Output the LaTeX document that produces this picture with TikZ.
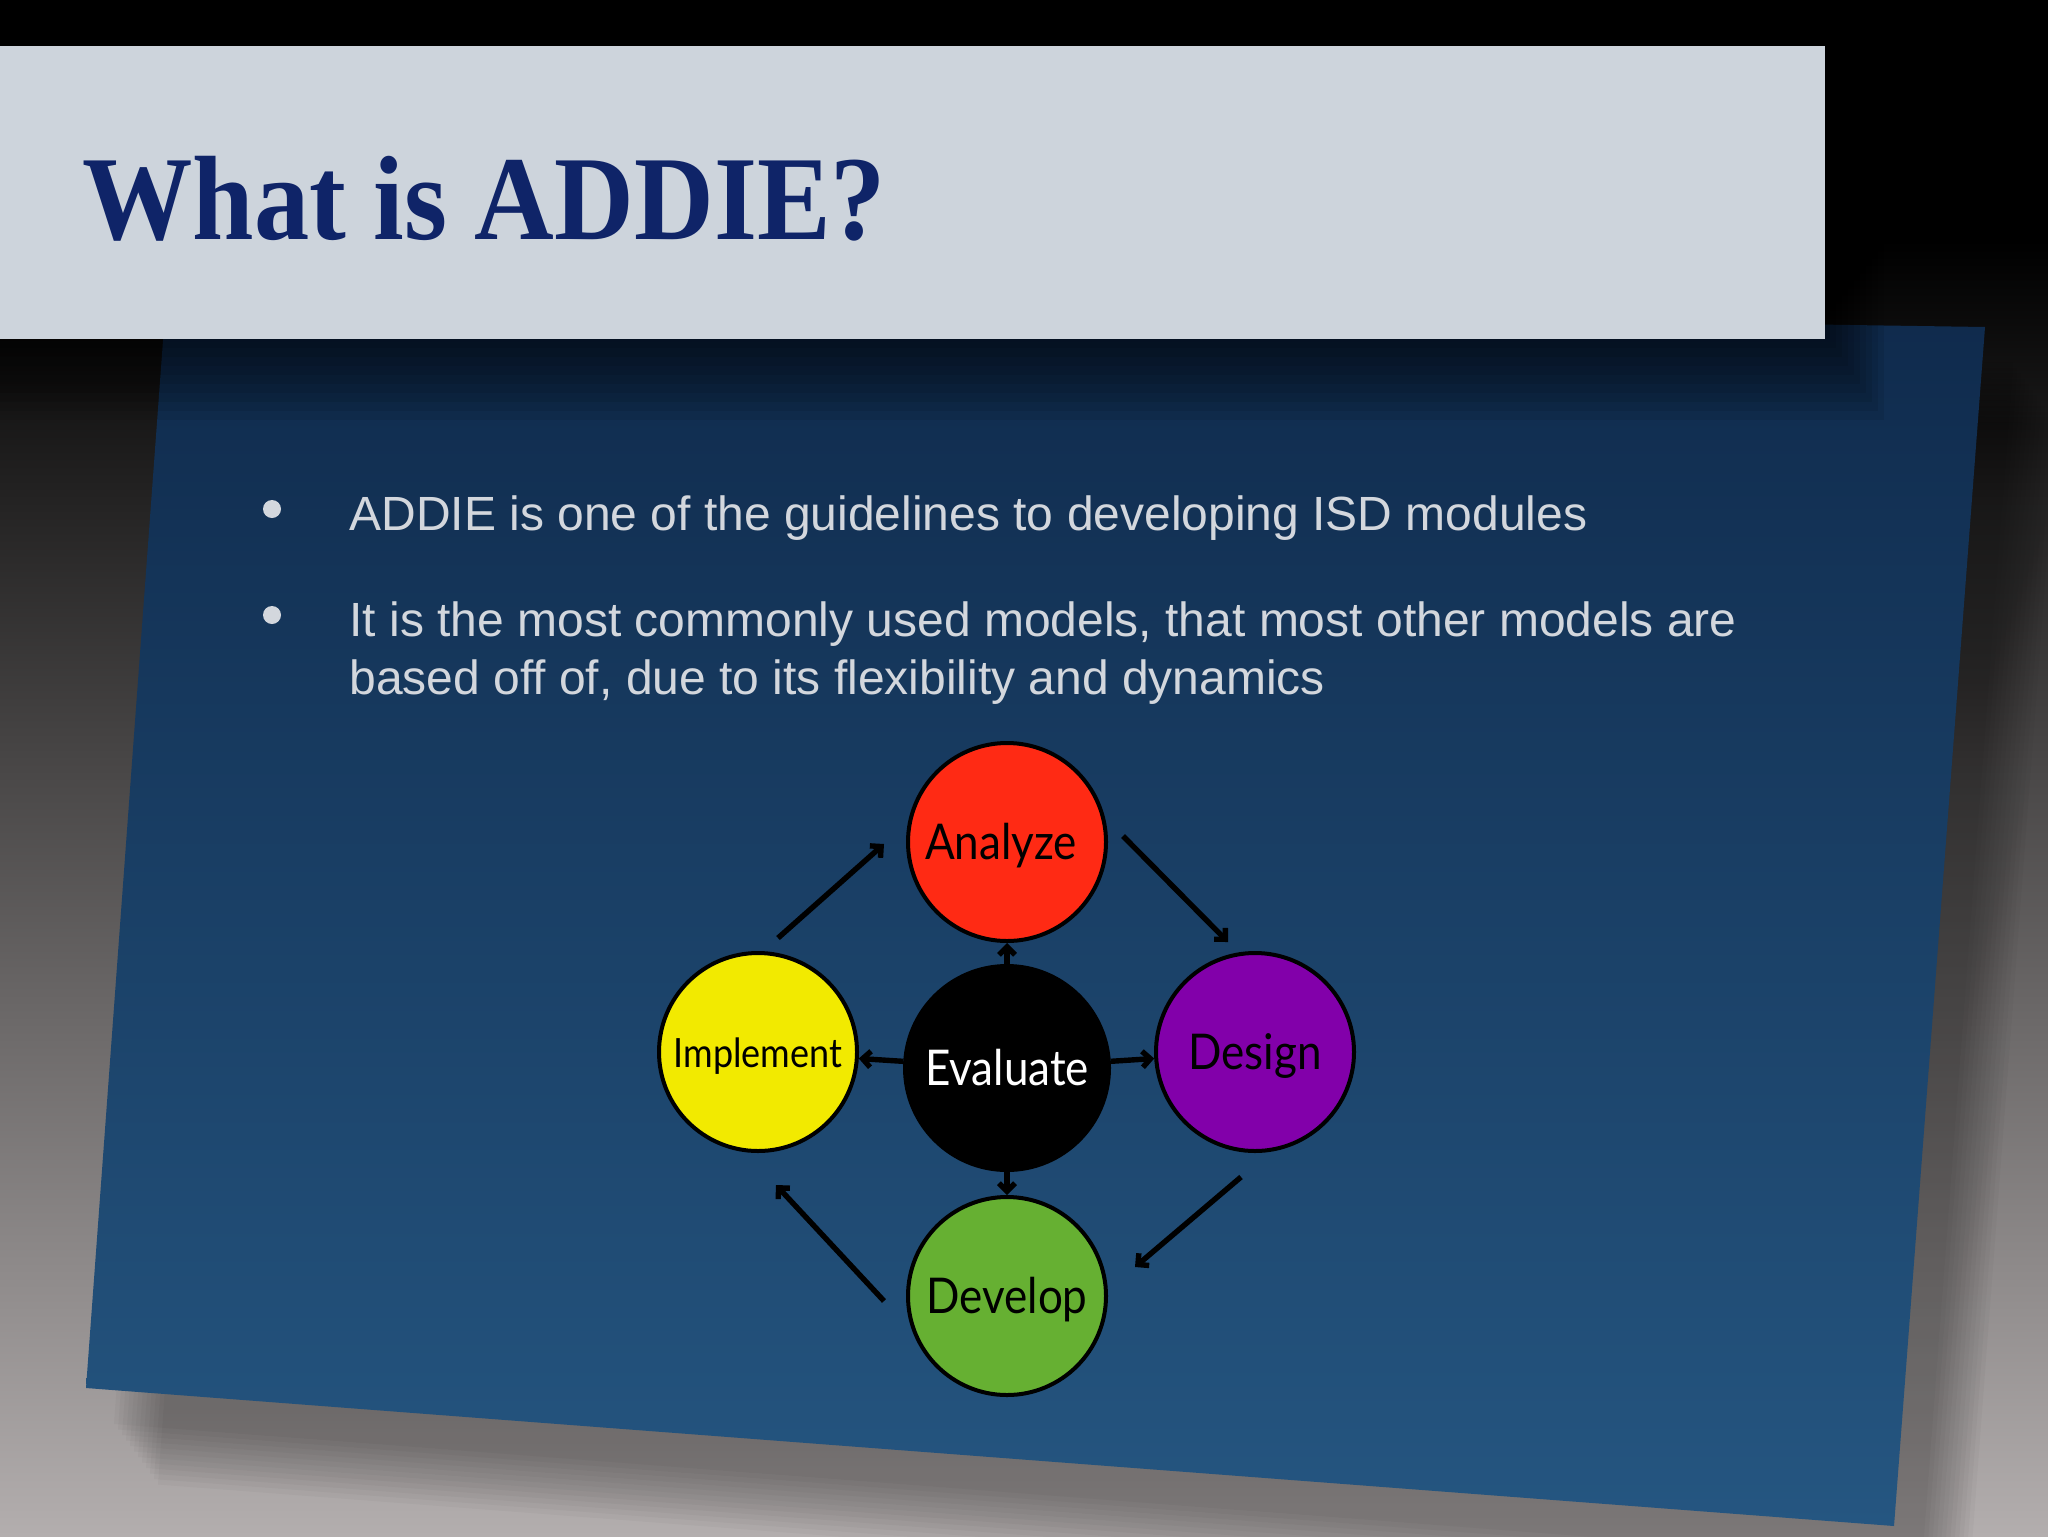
\documentclass[tikz,border=0pt]{standalone}
\usepackage{fontspec}
\setmainfont{Liberation Sans}
\newfontfamily\titlefont{Liberation Serif}
\newfontfamily\diagfont{Lato}
\usetikzlibrary{arrows.meta,calc}
\definecolor{titlebg}{HTML}{CDD4DC}
\definecolor{titlefg}{HTML}{0F2468}
\definecolor{bodyfg}{HTML}{D3D7DD}
\definecolor{paneltop}{HTML}{0F2A4C}
\definecolor{panelbot}{HTML}{255681}
\definecolor{bgbot}{HTML}{B3AEAE}
\definecolor{cred}{HTML}{FF2A14}
\definecolor{cyel}{HTML}{F2EA00}
\definecolor{cpur}{HTML}{8200AA}
\definecolor{cgrn}{HTML}{66B032}
\newcommand{\lbl}[1]{\scalebox{1}[1.12]{#1}}
\begin{document}
\begin{tikzpicture}[x=0.5pt,y=-0.5pt,
  phase/.style={circle,draw=black,line width=2pt,minimum size=99pt,inner sep=0pt,
    text height=22pt,text depth=5pt,
    font=\diagfont\fontsize{22}{26}\selectfont,text=black},
  arr/.style={line width=2.7pt,-{Straight Barb[length=4pt,width=8pt]}},
  bodytext/.style={anchor=base west,inner sep=0pt,text=bodyfg,font=\fontsize{24}{29}\selectfont},
  bulletdot/.style={circle,fill=bodyfg,inner sep=0pt,minimum size=9pt}]
\useasboundingbox (0,0) rectangle (2048,1536);
% background
\fill[black] (0,0) rectangle (2048,240);
\shade[top color=black,bottom color=bgbot] (0,240) rectangle (2048,1536);
% panel shadow (soft)
\foreach \k in {0,...,11}{
  \fill[black,opacity=0.028,shift={(28+4*\k,36+5.5*\k)}]
    (166,300) -- (1985,327) -- (1894,1526) -- (86,1388) -- cycle;
}
% panel
\shade[top color=paneltop,bottom color=panelbot]
  (166,300) -- (1985,327) -- (1894,1526) -- (86,1388) -- cycle;
% title shadow
\foreach \k in {0,...,9}{
  \fill[black,opacity=0.08] (0,100) rectangle (1830+6*\k,339+9*\k);
}
% title bar
\fill[titlebg] (0,46) rectangle (1825,339);
\node[anchor=base west,inner sep=0pt,text=titlefg,
  font=\titlefont\bfseries\fontsize{60}{60}\selectfont] (title) at (82,239)
  {\scalebox{0.92}[1]{What is ADDIE?}};
% bullets
\node[bulletdot] (b1) at (272,509) {};
\node[bodytext] (t1) at (349,530) {ADDIE is one of the guidelines to developing ISD modules};
\node[bulletdot] (b2) at (272,615) {};
\node[bodytext] (t2) at (349,636) {It is the most commonly used models, that most other models are};
\node[bodytext] (t3) at (349,694) {based off of, due to its flexibility and dynamics};
% diagram
\node[phase,fill=cred] (ana) at (1007,842) {\hspace*{-6pt}\lbl{Analyze}};
\node[phase,fill=cyel,text height=20pt,font=\diagfont\fontsize{18}{22}\selectfont] (imp) at (758,1052) {\lbl{Implement}};
\node[phase,fill=cpur] (des) at (1255,1052) {\lbl{Design}};
\node[phase,fill=cgrn] (dev) at (1007,1296) {\lbl{Develop}};
\node[phase,fill=black,text=white,minimum size=102pt] (eva) at (1007,1068) {\lbl{Evaluate}};
\coordinate (p1) at (778,938);
\coordinate (p2) at (884,844);
\coordinate (p3) at (1123,836);
\coordinate (p4) at (1228,942);
\coordinate (p5) at (1241,1177);
\coordinate (p6) at (1135,1267);
\coordinate (p7) at (884,1301);
\coordinate (p8) at (776,1185);
\draw[arr] (p1) -- (p2);
\draw[arr] (p3) -- (p4);
\draw[arr] (p5) -- (p6);
\draw[arr] (p7) -- (p8);
\draw[arr] (eva) -- (ana);
\draw[arr] (eva) -- (des);
\draw[arr] (eva) -- (imp);
\draw[arr] (eva) -- (dev);
\end{tikzpicture}
\end{document}
